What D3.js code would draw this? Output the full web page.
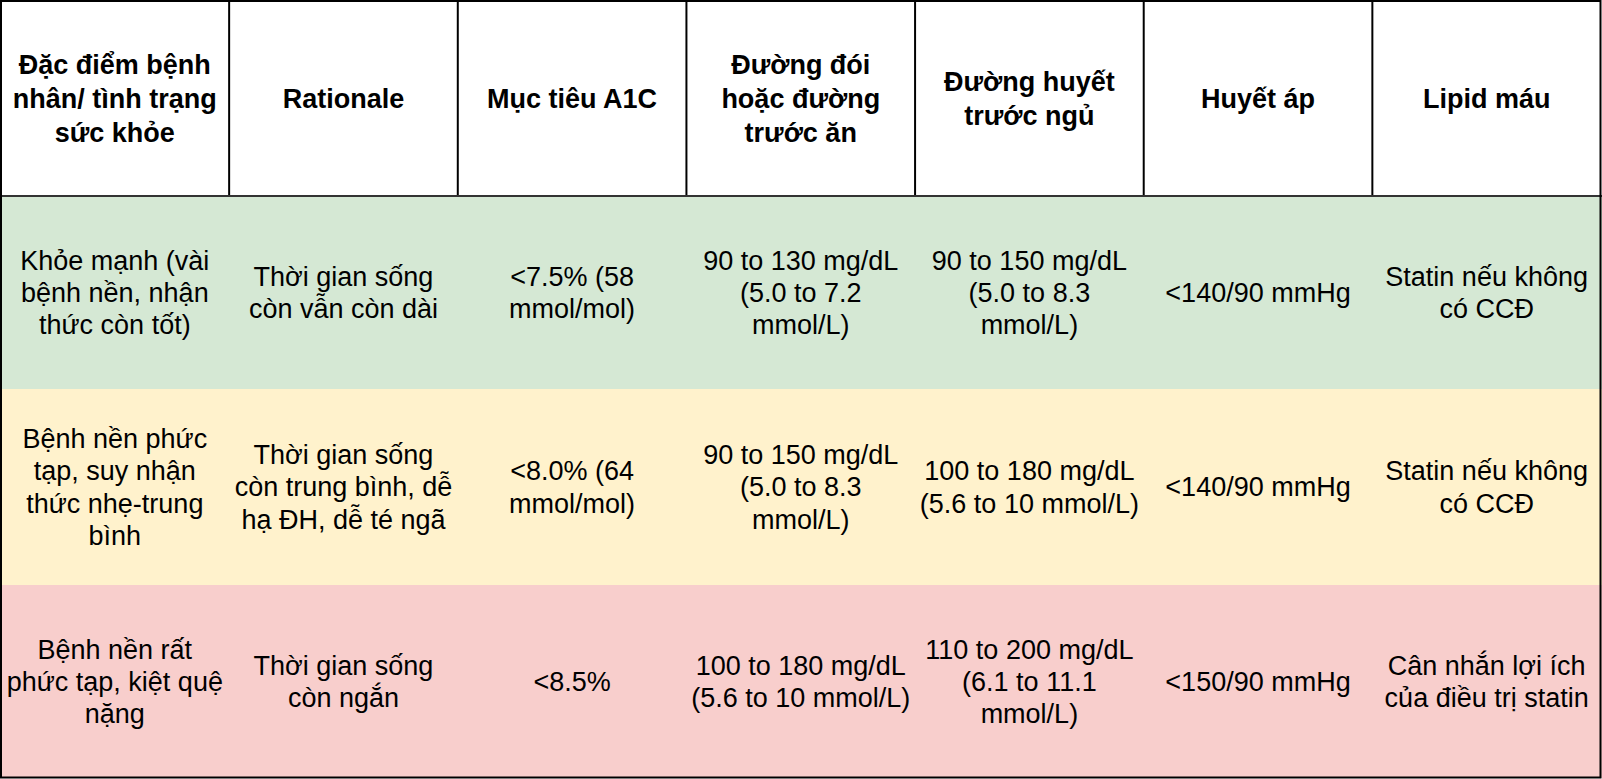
<!DOCTYPE html>
<html>
<head>
<meta charset="utf-8">
<script src="https://cdn.jsdelivr.net/npm/d3@7"></script>
<style>
  html, body { margin: 0; padding: 0; background: #ffffff; overflow: hidden; }
  svg { display: block; }
</style>
</head>
<body>
<svg id="chart" width="1602" height="779"></svg>
<script>
// ---- Data ----
const headers = [
  ["Đặc điểm bệnh", "nhân/ tình trạng", "sức khỏe"],
  ["Rationale"],
  ["Mục tiêu A1C"],
  ["Đường đói", "hoặc đường", "trước ăn"],
  ["Đường huyết", "trước ngủ"],
  ["Huyết áp"],
  ["Lipid máu"]
];
const patientStatus = [
  ["Khỏe mạnh (vài", "bệnh nền, nhận", "thức còn tốt)"],
  ["Bệnh nền phức", "tạp, suy nhận", "thức nhẹ-trung", "bình"],
  ["Bệnh nền rất", "phức tạp, kiệt quệ", "nặng"]
];
const rationale = [
  ["Thời gian sống", "còn vẫn còn dài"],
  ["Thời gian sống", "còn trung bình, dễ", "hạ ĐH, dễ té ngã"],
  ["Thời gian sống", "còn ngắn"]
];
const a1cTarget = [
  ["<7.5% (58", "mmol/mol)"],
  ["<8.0% (64", "mmol/mol)"],
  ["<8.5%"]
];
const fastingGlucose = [
  ["90 to 130 mg/dL", "(5.0 to 7.2", "mmol/L)"],
  ["90 to 150 mg/dL", "(5.0 to 8.3", "mmol/L)"],
  ["100 to 180 mg/dL", "(5.6 to 10 mmol/L)"]
];
const bedtimeGlucose = [
  ["90 to 150 mg/dL", "(5.0 to 8.3", "mmol/L)"],
  ["100 to 180 mg/dL", "(5.6 to 10 mmol/L)"],
  ["110 to 200 mg/dL", "(6.1 to 11.1", "mmol/L)"]
];
const bloodPressure = [
  ["<140/90 mmHg"],
  ["<140/90 mmHg"],
  ["<150/90 mmHg"]
];
const lipids = [
  ["Statin nếu không", "có CCĐ"],
  ["Statin nếu không", "có CCĐ"],
  ["Cân nhắn lợi ích", "của điều trị statin"]
];
const rowColors = ["#d5e8d4", "#fff2cc", "#f8cecc"];

// ---- Build table ----
const columns = [patientStatus, rationale, a1cTarget, fastingGlucose, bedtimeGlucose, bloodPressure, lipids];
const nRows = patientStatus.length;

const W = 1602, H = 779;
const svg = d3.select("#chart");

const x = d3.scaleBand().domain(d3.range(headers.length)).range([0.5, 1601]).paddingInner(0).paddingOuter(0);
const yEdges = [1, 196, 389, 585, 778];
const y = d3.scaleOrdinal().domain(["h", 0, 1, 2]).range(yEdges.slice(0, 4));
const yEnd = d3.scaleOrdinal().domain(["h", 0, 1, 2]).range(yEdges.slice(1));

const fontSize = 27;
const lineH = fontSize * 1.2;
const headerLineH = 33.6;
const fontFamily = "'Liberation Sans', Arial, Helvetica, sans-serif";

// Row backgrounds
svg.append("g").selectAll("rect")
  .data(d3.range(nRows))
  .join("rect")
  .attr("x", 0)
  .attr("y", d => y(d))
  .attr("width", W)
  .attr("height", d => yEnd(d) - y(d))
  .attr("fill", d => rowColors[d]);

// Header background
svg.append("rect")
  .attr("x", 0).attr("y", 0).attr("width", W).attr("height", yEnd("h"))
  .attr("fill", "#ffffff");

// Header dividers
svg.append("g").selectAll("line")
  .data(d3.range(1, headers.length))
  .join("line")
  .attr("x1", d => x(d)).attr("x2", d => x(d))
  .attr("y1", 0).attr("y2", yEnd("h"))
  .attr("stroke", "#000").attr("stroke-width", 2);

// Header bottom line
svg.append("line")
  .attr("x1", 0).attr("x2", W)
  .attr("y1", yEnd("h")).attr("y2", yEnd("h"))
  .attr("stroke", "#333333").attr("stroke-width", 2);

// Outer border
svg.append("rect")
  .attr("x", 1).attr("y", 1).attr("width", W - 2.5).attr("height", H - 2.5)
  .attr("fill", "none").attr("stroke", "#000").attr("stroke-width", 2);

function drawCell(g, lines, cx, cy, bold, lh) {
  const n = lines.length;
  const t = g.append("text")
    .attr("text-anchor", "middle")
    .attr("font-family", fontFamily)
    .attr("font-size", fontSize)
    .attr("font-weight", bold ? "bold" : "normal")
    .attr("fill", "#000");
  lines.forEach((ln, i) => {
    t.append("tspan")
      .attr("x", cx)
      .attr("y", cy + (i - (n - 1) / 2) * lh + fontSize * 0.35)
      .text(ln);
  });
}

const textG = svg.append("g");
headers.forEach((lines, c) => {
  drawCell(textG, lines, x(c) + x.bandwidth() / 2, (y("h") + yEnd("h")) / 2, true, headerLineH);
});
columns.forEach((col, c) => {
  col.forEach((lines, r) => {
    drawCell(textG, lines, x(c) + x.bandwidth() / 2, (y(r) + yEnd(r)) / 2, false, lineH);
  });
});
</script>
</body>
</html>
